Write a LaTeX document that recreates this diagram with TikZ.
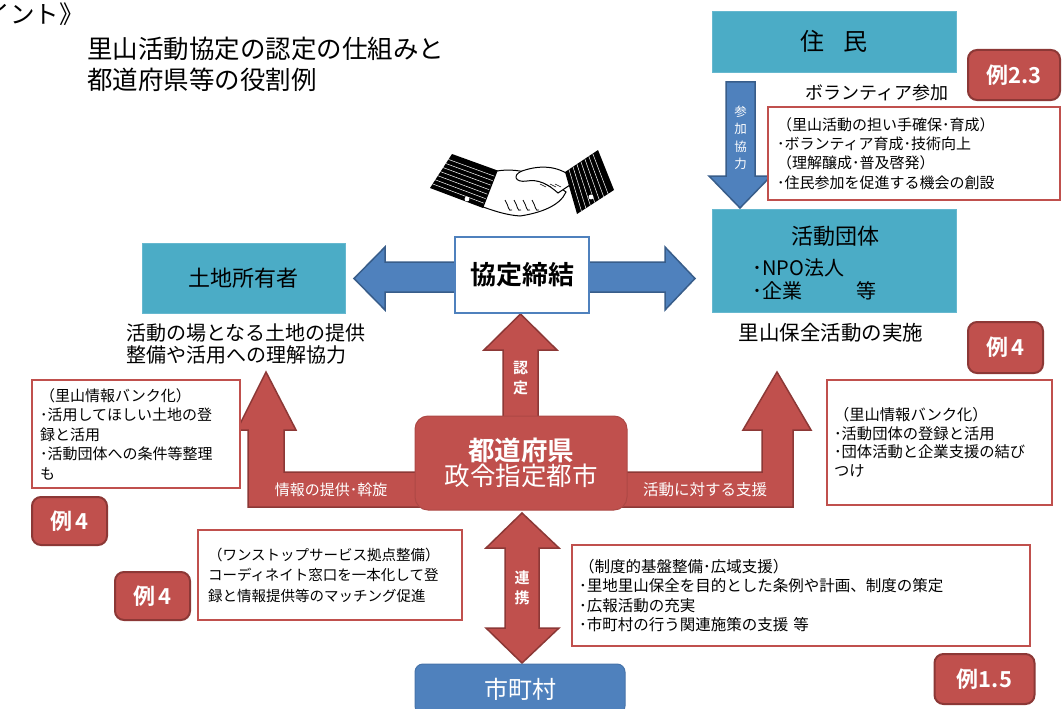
\documentclass[tikz,border=0pt]{standalone}
\usepackage{fontspec}
\setmainfont{Noto Sans CJK JP}[BoldFont={Noto Sans CJK JP Bold}]
\usetikzlibrary{calc}
\definecolor{cTeal}{HTML}{4BACC6}
\definecolor{cBlue}{HTML}{4F81BD}
\definecolor{cBlueD}{HTML}{385D8A}
\definecolor{cRed}{HTML}{C0504D}
\definecolor{cRedD}{HTML}{8C3836}
\newcommand\fsz[2]{\fontsize{#1}{#2}\selectfont}
\begin{document}
\begin{tikzpicture}[x=1pt,y=-1pt,
  tealbox/.style={fill=cTeal, draw=cTeal!85!white, line width=0.8pt, inner sep=0pt},
  notebox/.style={draw=cRed, line width=1.7pt, fill=white, align=left, inner sep=0pt},
  badge/.style={fill=cRed, draw=cRedD, line width=2pt, rounded corners=9pt,
    text=white, font=\bfseries\fsz{22}{24}, inner sep=0pt},
  redarrow/.style={fill=cRed, draw=cRedD, line width=1.5pt, line join=miter},
  bluearrow/.style={fill=cBlue, draw=cBlueD, line width=1.5pt, line join=miter},
  plain/.style={inner sep=0pt, text=black},
  arrowlabel/.style={inner sep=0pt, text=white, align=center}
]
\fill[white] (0,0) rectangle (1063,709);
\useasboundingbox (0,0) rectangle (1063,709);
\clip (0,0) rectangle (1063,709);

% ---------- heading ----------
\node[plain, anchor=east, font=\fsz{24.5}{28}] (head) at (84,14) {ポイント》};
\node[plain, anchor=west, align=left, font=\fsz{25.5}{31}] (title) at (87,64)
  {里山活動協定の認定の仕組みと\\都道府県等の役割例};

% ---------- handshake ----------
\begin{scope}
  % left sleeve
  \fill[black] (430,188) -- (452,154) -- (499,171) -- (483,208) -- cycle;
  \foreach \t in {0.12,0.24,...,0.9}
    \draw[white, line width=0.5pt] ($(430,188)!\t!(452,154)$) -- ($(483,208)!\t!(499,171)$);
  \fill[white] (467,199) circle (2.4);
  % lower hand
  \filldraw[fill=white, draw=black, line width=1pt]
    (497,171) .. controls (520,167) and (545,176) .. (566,192)
    .. controls (560,206) and (540,213) .. (520,216)
    .. controls (505,215) and (492,210) .. (483,207) -- cycle;
  \foreach \k in {0,1,2,3}
    \draw[black, line width=0.8pt] ($(505,196)+(\k*9,4)$) .. controls +(4,6) and +(-4,2) .. ($(512,206)+(\k*9,4)$);
  % upper hand with thumb
  \filldraw[fill=white, draw=black, line width=1pt]
    (576,181) .. controls (562,166) and (542,164) .. (522,171)
    .. controls (512,175) and (515,183) .. (527,181)
    .. controls (538,179) and (548,184) .. (558,193) -- cycle;
  \foreach \k in {0,1,2,3}
    \draw[black, line width=0.5pt] ($(540,186)+(\k*5,-2)$) -- ++(6,3);
  % right sleeve
  \fill[black] (565,172) -- (598,150) -- (614,190) -- (577,214) -- cycle;
  \foreach \t in {0.12,0.24,...,0.9}
    \draw[white, line width=0.5pt] ($(565,172)!\t!(598,150)$) -- ($(577,214)!\t!(614,190)$);
  \fill[white] (591,197) circle (2.4);
\end{scope}

% ---------- block arrows (drawn beneath the boxes) ----------
% agreement arrows, left and right
\filldraw[bluearrow] (470,262) -- (385,262) -- (385,247) -- (354,278.5) -- (385,310) -- (385,292) -- (470,292) -- cycle;
\filldraw[bluearrow] (575,262) -- (665,262) -- (665,247) -- (695,278.5) -- (665,310) -- (665,292) -- (575,292) -- cycle;
% participation arrow
\filldraw[bluearrow] (726,82) -- (755,82) -- (755,176) -- (771,176) -- (740,208) -- (709,176) -- (726,176) -- cycle;
\node[arrowlabel, font=\fsz{12.5}{17.5}] (sanka) at (740.5,138) {参\\加\\協\\力};

% certification arrow
\filldraw[redarrow] (503,425) -- (503,350) -- (484,350) -- (520.5,314) -- (557,350) -- (538,350) -- (538,425) -- cycle;
\node[arrowlabel, font=\bfseries\fsz{15}{20}] (nintei) at (520.5,378) {認\\定};

% cooperation arrow
\filldraw[redarrow] (522,513) -- (559,548) -- (539,548) -- (539,628) -- (559,628) -- (522,663)
  -- (486,628) -- (505,628) -- (505,548) -- (486,548) -- cycle;
\node[arrowlabel, font=\bfseries\fsz{15}{20}] (renkei) at (522,588) {連\\携};

% information arrow (left L)
\filldraw[redarrow] (430,472) -- (284,472) -- (284,430) -- (296,430) -- (266,372) -- (237,430)
  -- (248,430) -- (248,507) -- (430,507) -- cycle;
\node[arrowlabel, font=\fsz{15}{18}] (joho) at (331,489.5) {情報の提供･斡旋};

% support arrow (right L)
\filldraw[redarrow] (610,472) -- (762,472) -- (762,430) -- (743,430) -- (777,372) -- (811,430)
  -- (793,430) -- (793,507) -- (610,507) -- cycle;
\node[arrowlabel, font=\fsz{15.5}{18}] (shien) at (705,489.5) {活動に対する支援};

% ---------- main boxes ----------
\node[tealbox, minimum width=244pt, minimum height=61pt, font=\fsz{24}{28}] (jumin) at (834,41.5)
  {住\hspace{0.8em}民};
\node[tealbox, minimum width=203pt, minimum height=70pt, font=\fsz{22}{26}] (tochi) at (243.5,278)
  {土地所有者};
\node[tealbox, minimum width=244pt, minimum height=103pt] (dantai) at (834,260.5) {};
\node[plain, font=\fsz{22}{26}] (dantaiT) at (835,236) {活動団体};
\node[plain, anchor=west, align=left, font=\fsz{20}{23}] (dantaiL) at (752,279.5)
  {･NPO法人\\･企業\hspace{2.7em}等};

\node[fill=white, draw=cBlue, line width=1.5pt, minimum width=134pt, minimum height=76pt,
  inner sep=0pt, font=\bfseries\fsz{26}{30}] (kyotei) at (522,275) {協定締結};

\node[fill=cRed, draw=cRed!90!black, line width=1pt, rounded corners=13pt, minimum width=212pt,
  minimum height=94pt, text=white, align=center, inner sep=0pt] (pref) at (521,463)
  {{\bfseries\fsz{26.5}{32}都道府県}\\{\fsz{25.5}{30}政令指定都市}};

\node[fill=cBlue, draw=cBlue!90!black, line width=1pt, rounded corners=8pt, minimum width=210pt,
  minimum height=50pt, text=white, inner sep=0pt, font=\fsz{24}{28}] (city) at (520,689) {市町村};

% ---------- captions ----------
\node[plain, font=\fsz{18}{22}] (vol) at (877,92.5) {ボランティア参加};
\node[plain, anchor=west, align=left, font=\fsz{20}{22}] (tochiT) at (126,344)
  {活動の場となる土地の提供\\整備や活用への理解協力};
\node[plain, font=\fsz{20.5}{24}] (jisshi) at (831,333) {里山保全活動の実施};

% ---------- note boxes ----------
\node[notebox, minimum width=292pt, minimum height=93pt, text width=274pt, font=\fsz{15}{19.3}]
  (noteVol) at (914,153.5)
  {（里山活動の担い手確保･育成）\\･ボランティア育成･技術向上\\（理解醸成･普及啓発）\\･住民参加を促進する機会の創設};
\node[notebox, minimum width=208pt, minimum height=108pt, text width=192pt, font=\fsz{15}{19.5}]
  (noteL) at (136,434)
  {（里山情報バンク化）\\･活用してほしい土地の登\\録と活用\\･活動団体への条件等整理\\も};
\node[notebox, minimum width=225pt, minimum height=125pt, text width=211pt, font=\fsz{15.3}{18.5}]
  (noteR) at (939.5,442.5)
  {（里山情報バンク化）\\･活動団体の登録と活用\\･団体活動と企業支援の結び\\つけ};
\node[notebox, minimum width=264pt, minimum height=90pt, text width=244pt, font=\fsz{14.5}{20.5}]
  (noteOne) at (330,575)
  {（ワンストップサービス拠点整備）\\コーディネイト窓口を一本化して登\\録と情報提供等のマッチング促進};
\node[notebox, minimum width=458pt, minimum height=101pt, text width=444pt, font=\fsz{15.5}{19.3}]
  (noteInst) at (801,595.5)
  {（制度的基盤整備･広域支援）\\･里地里山保全を目的とした条例や計画、制度の策定\\･広報活動の充実\\･市町村の行う関連施策の支援 等};

% ---------- example badges ----------
\node[badge, minimum width=92pt, minimum height=50pt] (ex23) at (1014,75) {例2.3};
\node[badge, minimum width=75pt, minimum height=51pt] (ex4r) at (1005.5,347.5) {例\,4};
\node[badge, minimum width=75pt, minimum height=48pt] (ex4l) at (69.5,521) {例\,4};
\node[badge, minimum width=75pt, minimum height=48pt] (ex4m) at (152.5,596) {例\,4};
\node[badge, minimum width=100pt, minimum height=50pt] (ex15) at (984.5,679) {例1.5};
\end{tikzpicture}
\end{document}
